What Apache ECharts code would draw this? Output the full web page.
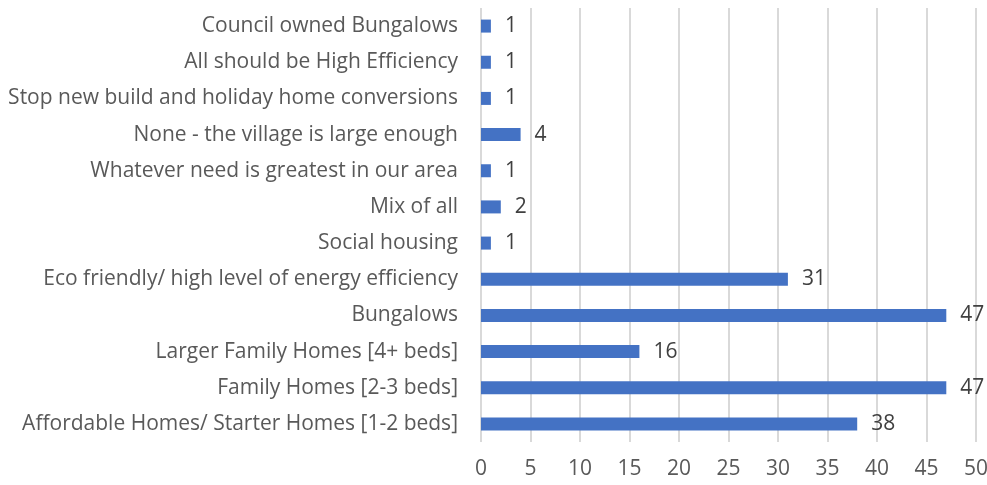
<!DOCTYPE html>
<html>
<head>
<meta charset="utf-8">
<script src="https://cdn.jsdelivr.net/npm/echarts@6/dist/echarts.min.js"></script>
<style>
  html, body { margin: 0; padding: 0; background: #fff; }
  #chart { width: 987px; height: 485px; }
</style>
</head>
<body>
<div id="chart"></div>
<script>
// categories listed bottom to top
const categories = [
  'Affordable Homes/ Starter Homes [1-2 beds]',
  'Family Homes [2-3 beds]',
  'Larger Family Homes [4+ beds]',
  'Bungalows',
  'Eco friendly/ high level of energy efficiency',
  'Social housing',
  'Mix of all',
  'Whatever need is greatest in our area',
  'None - the village is large enough',
  'Stop new build and holiday home conversions',
  'All should be High Efficiency',
  'Council owned Bungalows'
];
const counts = [38, 47, 16, 47, 31, 1, 2, 1, 4, 1, 1, 1];

const chart = echarts.init(document.getElementById('chart'));

const option = {
  animation: false,
  textStyle: { fontFamily: '"Open Sans", sans-serif' },
  grid: { left: 481, right: 11, top: 8, bottom: 43, outerBoundsMode: 'none' },
  xAxis: {
    type: 'value',
    min: 0,
    max: 50,
    interval: 5,
    axisLine: { show: false },
    axisTick: { show: false },
    axisLabel: { color: '#595959', fontSize: 21, margin: 17 },
    splitLine: { lineStyle: { color: '#d9d9d9', width: 2 } }
  },
  yAxis: {
    type: 'category',
    data: categories,
    axisLine: { show: false },
    axisTick: { show: false },
    axisLabel: { color: '#595959', fontSize: 21, margin: 23 }
  },
  series: [{
    type: 'bar',
    data: counts,
    barWidth: 13,
    itemStyle: { color: '#4472c4' },
    label: {
      show: true,
      position: 'right',
      distance: 14,
      color: '#404040',
      fontSize: 21
    }
  }]
};

chart.setOption(option);
</script>
</body>
</html>
